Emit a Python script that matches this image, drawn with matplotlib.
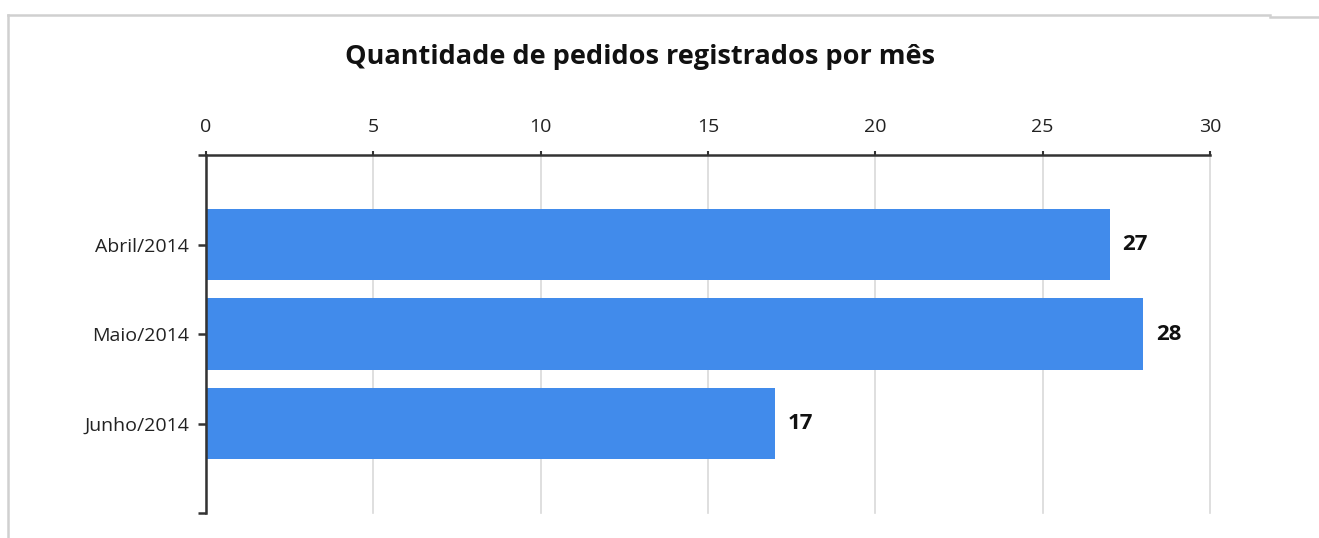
import matplotlib.pyplot as plt

months = ["Abril/2014", "Maio/2014", "Junho/2014"]
pedidos = [27, 28, 17]
x_ticks = [0, 5, 10, 15, 20, 25, 30]

W, H = 1319, 538
BAR = "#418beb"
AXIS = "#333333"
GRID = "#d9d9d9"
FRAME = "#d0d0d0"

plt.rcParams["font.family"] = ["Open Sans", "DejaVu Sans"]

fig = plt.figure(figsize=(W / 100, H / 100), dpi=100)
fig.patch.set_facecolor("white")

# light grey frame: left edge + top edge (no right/bottom edge visible)
fx = lambda px: px / W
fy = lambda py: 1 - py / H
fig.add_artist(plt.Line2D([fx(8), fx(8)], [fy(15), 0], transform=fig.transFigure,
                          color=FRAME, linewidth=1.8))
fig.add_artist(plt.Line2D([fx(8), fx(1270)], [fy(15), fy(15)], transform=fig.transFigure,
                          color=FRAME, linewidth=1.8))
fig.add_artist(plt.Line2D([fx(1270), 1.0], [fy(16.5), fy(16.5)], transform=fig.transFigure,
                          color=FRAME, linewidth=1.8))

ax = fig.add_axes([fx(206), fy(513), (1210 - 206) / W, (513 - 155) / H])

pos = list(range(1, len(months) + 1))
ax.barh(pos, pedidos, height=0.8, color=BAR, zorder=2)
for p, v in zip(pos, pedidos):
    ax.text(v + 0.38, p, str(v), va="center", ha="left", fontsize=16,
            fontweight="bold", color="#111111")

ax.set_xlim(0, 30)
ax.set_ylim(len(months) + 1, 0)
ax.set_xticks(x_ticks)
ax.xaxis.tick_top()
ax.tick_params(axis="x", length=3, width=1.5, color=AXIS, labelsize=14,
               labelcolor="#222222", pad=11)
ax.set_yticks(range(0, len(months) + 2))
ax.set_yticklabels([""] + months + [""])
ax.tick_params(axis="y", length=6, width=1.8, color=AXIS, labelsize=14,
               labelcolor="#222222", pad=6)
ax.grid(axis="x", color=GRID, linewidth=1.2, zorder=0)
for gl in ax.get_xgridlines():
    gl.set_clip_on(False)

for s in ("right", "bottom"):
    ax.spines[s].set_visible(False)
for s in ("top", "left"):
    ax.spines[s].set_color(AXIS)
    ax.spines[s].set_linewidth(1.8)

fig.text(fx(640), fy(57), "Quantidade de pedidos registrados por mês",
         ha="center", va="center", fontsize=19.5, fontweight="bold", color="#111111")

fig.savefig("out.png", dpi=100, facecolor="white")
